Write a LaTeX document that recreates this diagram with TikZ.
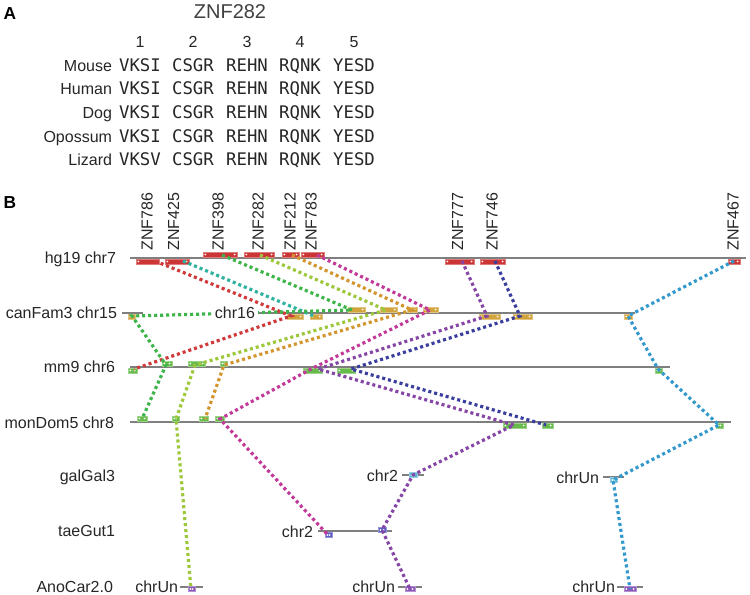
\documentclass[tikz,border=0pt]{standalone}
\usepackage{fontspec}
\setmainfont{Liberation Sans}
\newfontfamily\seqfont{DejaVu Sans Mono}
\definecolor{txt}{HTML}{262626}
\definecolor{ttl}{HTML}{404040}
\definecolor{chrgray}{HTML}{7F7F7F}
\definecolor{cred}{HTML}{D03A3A}
\definecolor{cteal}{HTML}{2FB3A0}
\definecolor{cgreen}{HTML}{3DB54A}
\definecolor{cyg}{HTML}{9DC83C}
\definecolor{corange}{HTML}{D3952E}
\definecolor{cmag}{HTML}{C23A99}
\definecolor{cpurp}{HTML}{8646A6}
\definecolor{cblue}{HTML}{3A3F9E}
\definecolor{ccyan}{HTML}{3399CC}
\definecolor{bred}{HTML}{CC3535}
\definecolor{bgold}{HTML}{D2A43C}
\definecolor{bgreen}{HTML}{66BB4A}
\definecolor{bcyan}{HTML}{5AB4D6}
\definecolor{bblue}{HTML}{5C5CC2}
\definecolor{bpurp}{HTML}{8A56B8}
\newcommand\gb[5]{%
  \node[gbox=#5, minimum width={(#3-#2)*0.75pt}] (#1) at ({(#2+#3)/2},#4) {};
  \fill[white] ([xshift=1.8pt]#1.west) circle[radius=0.7pt] ([xshift=-1.8pt]#1.east) circle[radius=0.7pt];
}
\begin{document}
\begin{tikzpicture}[x=0.75pt,y=-0.75pt,
  every node/.style={inner sep=0pt, outer sep=0pt, text=txt},
  lbl/.style={font=\fontsize{12}{14}\selectfont, anchor=base east},
  gene/.style={font=\fontsize{12}{14}\selectfont, rotate=90, anchor=west},
  seq/.style={font=\seqfont\fontsize{13}{15}\selectfont, anchor=base},
  num/.style={font=\fontsize{12}{14}\selectfont, anchor=base},
  panel/.style={font=\bfseries\fontsize{13}{15}\selectfont, text=black},
  chr/.style={draw=chrgray, line width=1.1pt},
  conn/.style={line width=2.4pt, dash pattern=on 2.3pt off 2.2pt},
  gbox/.style={rectangle, draw=white!35!#1, fill=#1, line width=0.3pt, minimum height=3.9pt, inner sep=0pt}
]
\useasboundingbox (0,0) rectangle (750,595);

% ---------- Panel A ----------
\node[panel] (pA) at (10,13.5) {A};
\node[font=\fontsize{15}{17}\selectfont, text=ttl, anchor=base] (title) at (230,18.5) {ZNF282};
\foreach \n/\x in {1/140,2/193,3/247,4/300,5/354}
  \node[num] (n\n) at (\x,48) {\n};
\foreach \sp/\yy/\a/\b/\c/\d/\e in {Mouse/71.5/VKSI/CSGR/REHN/RQNK/YESD,
    Human/95/VKSI/CSGR/REHN/RQNK/YESD,
    Dog/119/VKSI/CSGR/REHN/RQNK/YESD,
    Opossum/142.5/VKSI/CSGR/REHN/RQNK/YESD,
    Lizard/166/VKSV/CSGR/REHN/RQNK/YESD}{
  \node[lbl] (sp\sp) at (112,\yy) {\sp};
  \node[seq] (s1\sp) at (140,\yy) {\a};
  \node[seq] (s2\sp) at (193,\yy) {\b};
  \node[seq] (s3\sp) at (247,\yy) {\c};
  \node[seq] (s4\sp) at (300,\yy) {\d};
  \node[seq] (s5\sp) at (354,\yy) {\e};
}

% ---------- Panel B ----------
\node[panel] (pB) at (10,203) {B};

% gene labels
\foreach \g/\x in {786/147,425/173.5,398/218,282/258,212/290,783/311,777/457.5,746/492,467/733}
  \node[gene] (g\g) at (\x,250.5) {ZNF\g};

% row labels
\node[lbl] (r1) at (116,264) {hg19 chr7};
\node[lbl] (r2) at (117,319) {canFam3 chr15};
\node[lbl] (r3) at (115,373) {mm9 chr6};
\node[lbl] (r4) at (114,428) {monDom5 chr8};
\node[lbl] (r5) at (115,481) {galGal3};
\node[lbl] (r6) at (115,536.5) {taeGut1};
\node[lbl] (r7) at (113,592) {AnoCar2.0};

% chromosome lines
\draw[chr] (130,258) -- (746,258);
\draw[chr] (122,313) -- (143,313);
\draw[chr] (257,313) -- (635,313);
\draw[chr] (130,367) -- (670,367);
\draw[chr] (130,422) -- (731,422);
\draw[chr] (402,475) -- (424,475);
\draw[chr] (603,477) -- (624,477);
\draw[chr] (318,531) -- (392,531);
\draw[chr] (180,587) -- (203,587);
\draw[chr] (398,587) -- (422,587);
\draw[chr] (617,587) -- (643,587);

% chromosome names
\node[lbl] (k2) at (398,481) {chr2};
\node[lbl] (kU1) at (599,483) {chrUn};
\node[lbl] (k3) at (313,537) {chr2};
\node[lbl] (kU2) at (178,592.5) {chrUn};
\node[lbl] (kU3) at (395,592.5) {chrUn};
\node[lbl] (kU4) at (615,592.5) {chrUn};

% hg19 boxes
\gb{hb1}{136}{159}{261.5}{bred}
\gb{hb2}{165}{189}{261.5}{bred}
\gb{hb3}{203}{237}{254.5}{bred}
\gb{hb4}{244}{274}{254.5}{bred}
\gb{hb5}{282}{299}{254.5}{bred}
\gb{hb6}{301}{324}{254.5}{bred}
\gb{hb7}{445}{474}{261.5}{bred}
\gb{hb8}{480}{505}{261.5}{bred}
\gb{hb9}{728}{740}{261.5}{bred}
% canFam3 boxes
\gb{cb0}{128}{135}{316.5}{bgold}
\gb{cb1}{287}{303}{316.5}{bgold}
\gb{cb2}{310}{322}{316.5}{bgold}
\gb{cb3}{348}{365}{309.5}{bgold}
\gb{cb4}{380}{397}{309.5}{bgold}
\gb{cb5}{407}{417}{309.5}{bgold}
\gb{cb6}{423}{438}{309.5}{bgold}
\gb{cb7}{479}{500}{316.5}{bgold}
\gb{cb8}{513}{532}{316.5}{bgold}
\gb{cb9}{624}{632}{316.5}{bgold}
% mm9 boxes
\gb{mb1}{128}{137}{370.5}{bgreen}
\gb{mb2}{162}{172}{363.5}{bgreen}
\gb{mb3}{188}{205}{363.5}{bgreen}
\gb{mb4}{220}{227}{363.5}{bgreen}
\gb{mb5}{303}{322}{370.5}{bgreen}
\gb{mb6}{337}{355}{370.5}{bgreen}
\gb{mb7}{655}{662}{370.5}{bgreen}
% monDom5 boxes
\gb{db1}{137}{147}{418.5}{bgreen}
\gb{db2}{172}{179}{418.5}{bgreen}
\gb{db3}{199}{208}{418.5}{bgreen}
\gb{db4}{215}{224}{418.5}{bgreen}
\gb{db5}{503}{526}{425.5}{bgreen}
\gb{db6}{542}{553}{425.5}{bgreen}
\gb{db7}{716}{723}{425.5}{bgreen}
% bird / lizard boxes
\gb{gb1}{409}{417}{475}{bcyan}
\gb{gb2}{610}{617}{480}{bcyan}
\gb{tb1}{325}{332}{535}{bblue}
\gb{tb2}{378}{386}{530}{bblue}
\gb{ab1}{188}{195}{589}{bpurp}
\gb{ab2}{405}{415}{589}{bpurp}
\gb{ab3}{624}{636}{589}{bpurp}

% connection points
\coordinate (hA) at (155,261); \coordinate (hB) at (183,261);
\coordinate (hC) at (222,255); \coordinate (hD) at (260,255);
\coordinate (hE) at (292,255); \coordinate (hF) at (317,255);
\coordinate (hG) at (462,261); \coordinate (hH) at (495,261);
\coordinate (hI) at (734,261);
\coordinate (cL) at (132,316); \coordinate (cA) at (291,316);
\coordinate (cB) at (314,316); \coordinate (cC) at (352,310);
\coordinate (cD) at (386,310); \coordinate (cE) at (412,310);
\coordinate (cF) at (430,310); \coordinate (cG) at (487,316);
\coordinate (cH) at (520,316); \coordinate (cI) at (628,316);
\coordinate (mA) at (134,369); \coordinate (mC) at (166,365);
\coordinate (mD) at (195,365); \coordinate (mE) at (224,365);
\coordinate (mF) at (311,369); \coordinate (mG) at (318,369);
\coordinate (mH) at (351,369); \coordinate (mI) at (658,369);
\coordinate (dC) at (142,419); \coordinate (dD) at (176,419);
\coordinate (dE) at (205,419); \coordinate (dF) at (220,419);
\coordinate (dG) at (514,425); \coordinate (dH) at (546,425);
\coordinate (dI) at (719,425);
\coordinate (gG) at (413,475); \coordinate (gI) at (613,480);
\coordinate (tF) at (328,535); \coordinate (tG) at (382,530);
\coordinate (aD) at (191,589); \coordinate (aG) at (410,589);
\coordinate (aI) at (630,589);

% connectors
\draw[conn, cred] (hA) -- (cA) -- (mA);
\draw[conn, cteal] (hB) -- (cB);
\draw[conn, cgreen] (hC) -- (cC) -- (cL) -- (mC) -- (dC);
\draw[conn, cyg] (hD) -- (cD) -- (mD) -- (dD) -- (aD);
\draw[conn, corange] (hE) -- (cE) -- (mE) -- (dE);
\draw[conn, cmag] (hF) -- (cF) -- (mF) -- (dF) -- (tF);
\draw[conn, cpurp] (hG) -- (cG) -- (mG) -- (dG) -- (gG) -- (tG) -- (aG);
\draw[conn, cblue] (hH) -- (cH) -- (mH) -- (dH);
\draw[conn, ccyan] (hI) -- (cI) -- (mI) -- (dI) -- (gI) -- (aI);

% chr16 label over the green connector
\node[font=\fontsize{12}{14}\selectfont, anchor=base, fill=white, inner xsep=2pt, inner ysep=1pt] (k16) at (235,319) {chr16};
\end{tikzpicture}
\end{document}
